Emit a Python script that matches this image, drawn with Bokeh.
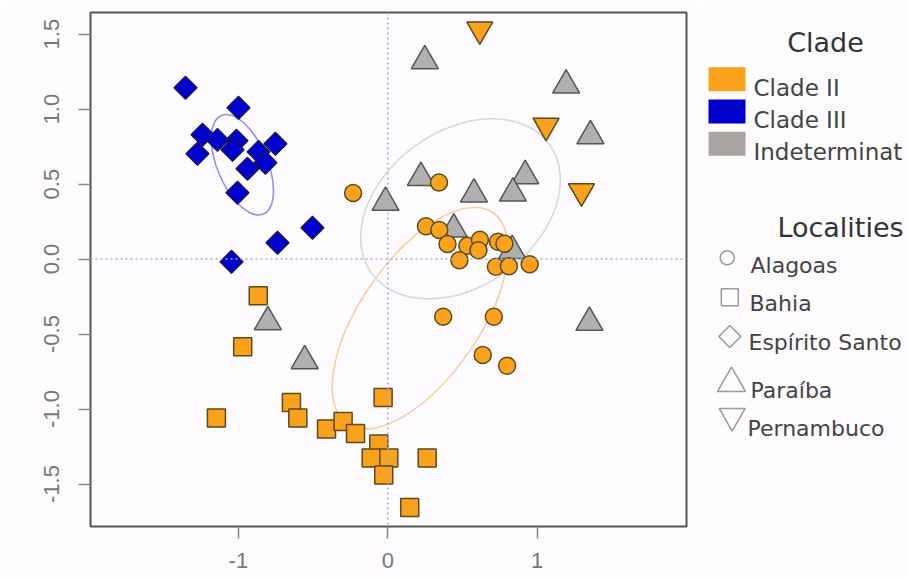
import math
from bokeh.plotting import figure
from bokeh.models import Range1d, FixedTicker, PrintfTickFormatter, Span, ColumnDataSource
from bokeh.layouts import row
from bokeh.core.properties import value
from bokeh.embed import file_html
from bokeh.resources import INLINE

# ---------------- data ----------------
# Alagoas (Clade II) - circles
alagoas_x = [-0.232, 0.343, 0.256, 0.345, 0.400, 0.533, 0.617, 0.607, 0.480, 0.738,
             0.781, 0.724, 0.811, 0.950, 0.371, 0.710, 0.636, 0.799]
alagoas_y = [0.440, 0.511, 0.219, 0.194, 0.100, 0.089, 0.129, 0.059, -0.008, 0.115,
             0.102, -0.051, -0.048, -0.035, -0.385, -0.385, -0.640, -0.711]
# Bahia (Clade II) - squares
bahia_x = [-0.867, -0.971, -1.147, -0.645, -0.602, -0.410, -0.299, -0.216, -0.031,
           -0.060, -0.111, 0.007, -0.027, 0.264, 0.147]
bahia_y = [-0.245, -0.585, -1.060, -0.956, -1.060, -1.133, -1.083, -1.163, -0.923,
           -1.233, -1.327, -1.327, -1.440, -1.327, -1.656]
# Espirito Santo (Clade III) - diamonds
es_x = [-1.354, -0.999, -1.240, -1.140, -1.013, -1.039, -1.274, -0.865, -0.752,
        -0.819, -0.939, -1.006, -0.504, -0.738, -1.046]
es_y = [1.142, 1.009, 0.829, 0.795, 0.789, 0.729, 0.702, 0.715, 0.769,
        0.642, 0.602, 0.442, 0.209, 0.109, -0.018]
# Paraiba (Indeterminate) - triangles
paraiba_x = [0.248, 1.194, 1.357, 0.222, 0.920, 0.577, 0.838, -0.015, 0.442, 0.833,
             -0.803, -0.556, 1.350]
paraiba_y = [1.321, 1.159, 0.821, 0.543, 0.555, 0.432, 0.439, 0.377, 0.199, 0.055,
             -0.419, -0.679, -0.423]
# Pernambuco (Clade II) - inverted triangles
pern_x = [0.616, 1.060, 1.297]
pern_y = [1.531, 0.889, 0.452]

# ellipses per clade
ell_clade = ["Clade II", "Clade III", "Indeterminat"]
ell_x = [0.216, -0.973, 0.487]
ell_y = [-0.395, 0.629, 0.335]
ell_w = [1.719, 0.716, 1.470]
ell_h = [0.792, 0.333, 1.035]
ell_angle_deg = [55.3, 113.0, 36.0]
ell_colors = ["#f7cda6", "#9494e6", "#d9d9d9"]

x_ticks = [-1, 0, 1]
y_ticks = [-1.5, -1.0, -0.5, 0.0, 0.5, 1.0, 1.5]

clade_names = ["Clade II", "Clade III", "Indeterminat"]
clade_colors = ["#FBA21C", "#0000CD", "#A9A4A0"]
locality_names = ["Alagoas", "Bahia", "Espírito Santo", "Paraíba", "Pernambuco"]

ORANGE = "#FBA21C"
BLUE = "#0000D0"
GRAY = "#B0B0B0"
BG = "#fdfbfd"

H = 577
TOP = 12
BOTTOM = 51

# ---------------- main plot ----------------
p = figure(width=698, height=H, output_backend="svg", toolbar_location=None,
           x_range=Range1d(-1.99, 2.0), y_range=Range1d(-1.783, 1.644),
           min_border_left=90, min_border_right=12, min_border_top=TOP,
           min_border_bottom=BOTTOM)
p.background_fill_color = BG
p.border_fill_color = BG
p.outline_line_color = "#555555"
p.outline_line_width = 2
p.grid.visible = False

p.xaxis.ticker = FixedTicker(ticks=x_ticks)
p.yaxis.ticker = FixedTicker(ticks=y_ticks)
p.xaxis.formatter = PrintfTickFormatter(format="%d")
p.yaxis.formatter = PrintfTickFormatter(format="%.1f")
p.yaxis.major_label_orientation = "vertical"
for ax in (p.xaxis[0], p.yaxis[0]):
    ax.axis_line_color = None
    ax.major_tick_line_color = "#888888"
    ax.major_tick_line_width = 1.5
    ax.major_tick_out = 12
    ax.major_tick_in = 0
    ax.minor_tick_line_color = None
    ax.major_label_text_font = "Liberation Sans"
    ax.major_label_text_font_size = "22px"
    ax.major_label_text_color = "#777777"
p.xaxis.major_label_standoff = 14
p.yaxis.major_label_standoff = 19

for dim in ("width", "height"):
    p.add_layout(Span(location=0, dimension=dim, line_color="#a6acc4",
                      line_width=1.5, line_dash="2 3"))

p.ellipse(x=ell_x, y=ell_y, width=ell_w, height=ell_h,
          angle=[math.radians(a) for a in ell_angle_deg],
          fill_color=None, line_color=ell_colors, line_width=1.6)

p.scatter(paraiba_x, paraiba_y, marker="triangle", size=27, fill_color=GRAY,
          line_color="#555555", line_width=1.5)
p.scatter(pern_x, pern_y, marker="inverted_triangle", size=26, fill_color=ORANGE,
          line_color="#5a4a20", line_width=1.5)
p.scatter(bahia_x, bahia_y, marker="square", size=18, fill_color=ORANGE,
          line_color="#5a4a20", line_width=1.5)
p.scatter(alagoas_x, alagoas_y, marker="circle", size=17, fill_color=ORANGE,
          line_color="#5a4a20", line_width=1.5)
p.scatter(es_x, es_y, marker="square", angle=math.pi / 4, size=16.3, fill_color=BLUE,
          line_color="#1a1a40", line_width=1.2)

# ---------------- legend panel ----------------
# frame spans the same pixel rows as the main frame; data units = pixels
leg = figure(width=210, height=H, output_backend="svg", toolbar_location=None,
             x_range=Range1d(0, 210), y_range=Range1d(H - BOTTOM, TOP),
             x_axis_location=None, y_axis_location=None,
             min_border_left=0, min_border_right=0, min_border_top=TOP,
             min_border_bottom=BOTTOM)
leg.background_fill_color = BG
leg.border_fill_color = BG
leg.outline_line_color = None
leg.grid.visible = False

title_font = value("DejaVu Sans")
leg.text(x=[127], y=[42], text=["Clade"], text_align="center",
         text_baseline="alphabetic", text_font=title_font,
         text_font_size=value("27px"), text_color="#333333")
clade_rows = [78.7, 111.0, 143.3]
leg.rect(x=[28.5] * 3, y=clade_rows, width=37, height=24,
         fill_color=clade_colors, line_color=None)
leg.text(x=[55] * 3, y=[r + 8.6 for r in clade_rows], text=clade_names,
         text_align="left", text_baseline="alphabetic", text_font=title_font,
         text_font_size=value("23px"), text_color="#444444")

leg.text(x=[142], y=[227], text=["Localities"], text_align="center",
         text_baseline="alphabetic", text_font=title_font,
         text_font_size=value("27px"), text_color="#333333")
loc_src = ColumnDataSource(dict(
    x=[28.7, 31.3, 31.3, 33.0, 33.7],
    y=[257.3, 296.7, 336.0, 382.8, 415.5],
    marker=["circle", "square", "square", "triangle", "inverted_triangle"],
    size=[14, 17, 15.5, 28, 26],
    angle=[0, 0, math.pi / 4, 0, 0],
))
leg.scatter(x="x", y="y", marker="marker", size="size", angle="angle", source=loc_src,
            fill_color=None, line_color="#9a9a9a", line_width=1.5)
leg.text(x=[52, 51, 50, 52, 49], y=[265, 303.3, 341.7, 390, 427.7],
         text=locality_names, text_align="left", text_baseline="alphabetic",
         text_font=title_font, text_font_size=value("22px"), text_color="#444444")

layout = row(p, leg)
open("out.html", "w").write(file_html(layout, INLINE))
